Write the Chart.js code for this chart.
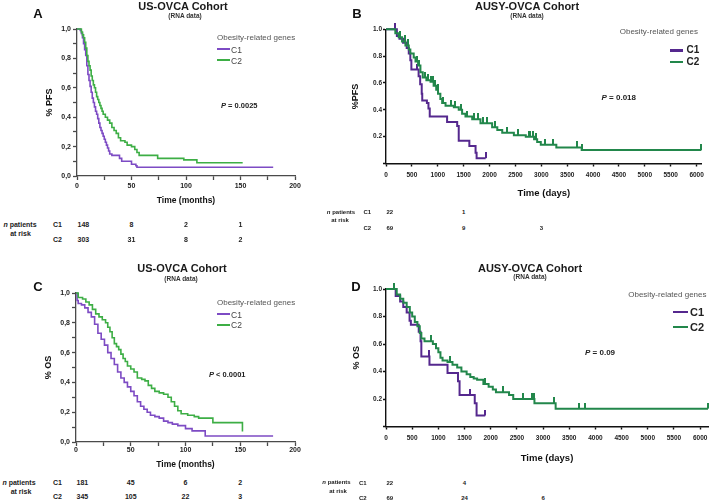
<!DOCTYPE html>
<html>
<head>
<meta charset="utf-8">
<title>Obesity-related genes - survival</title>
<script src="https://cdn.jsdelivr.net/npm/chart.js"></script>
<style>
  body { margin: 0; background: #fff; }
  #page { position: relative; width: 709px; height: 502px; overflow: hidden;
          font-family: "Liberation Sans", Arial, sans-serif; color: #222; }
  canvas { position: absolute; }
  .c  { position: absolute; white-space: nowrap; line-height: 1; transform: translate(-50%, -50%); }
  .l  { position: absolute; white-space: nowrap; line-height: 1; transform: translate(0, -50%); }
  .r  { position: absolute; white-space: nowrap; line-height: 1; transform: translate(-100%, -50%); }
  .b  { font-weight: bold; }
  .key { position: absolute; }
  .title { font-size: 11px; font-weight: bold; color: #1a1a1a; }
  .sub { font-size: 6.5px; font-weight: bold; color: #333; }
  .letter { font-size: 13px; font-weight: bold; color: #111; }
  .gene { font-size: 8px; color: #555; }
</style>
</head>
<body>
<div id="page">
  <canvas id="chartA"></canvas>
  <canvas id="chartB"></canvas>
  <canvas id="chartC"></canvas>
  <canvas id="chartD"></canvas>

  <!-- titulos -->
  <div class="c letter" style="left:38px;top:13px">A</div>
  <div class="c title" style="left:183px;top:6px">US-OVCA Cohort</div>
  <div class="c sub" style="left:185px;top:15.5px">(RNA data)</div>

  <div class="c letter" style="left:357px;top:13px">B</div>
  <div class="c title" style="left:527px;top:6px">AUSY-OVCA Cohort</div>
  <div class="c sub" style="left:527px;top:15.5px">(RNA data)</div>

  <div class="c letter" style="left:38px;top:286px">C</div>
  <div class="c title" style="left:182px;top:268px">US-OVCA Cohort</div>
  <div class="c sub" style="left:181px;top:278.5px">(RNA data)</div>

  <div class="c letter" style="left:356px;top:286px">D</div>
  <div class="c title" style="left:530px;top:268px">AUSY-OVCA Cohort</div>
  <div class="c sub" style="left:530px;top:277px">(RNA data)</div>

  <!-- legendas -->
  <div class="l gene" style="left:217px;top:38px">Obesity-related genes</div>
  <div class="key" id="keyA1" style="left:217px;top:48.3px;width:13px;height:2px"></div>
  <div class="l" style="left:231px;top:49.5px;font-size:8.5px;color:#444">C1</div>
  <div class="key" id="keyA2" style="left:217px;top:59.3px;width:13px;height:2px"></div>
  <div class="l" style="left:231px;top:60.5px;font-size:8.5px;color:#444">C2</div>

  <div class="r gene" style="left:698px;top:32.3px">Obesity-related genes</div>
  <div class="key" id="keyB1" style="left:670px;top:49px;width:13px;height:2.5px"></div>
  <div class="l b" style="left:686.5px;top:50.3px;font-size:10px">C1</div>
  <div class="key" id="keyB2" style="left:670px;top:60.7px;width:13px;height:2.5px"></div>
  <div class="l b" style="left:686.5px;top:62px;font-size:10px">C2</div>

  <div class="l gene" style="left:217px;top:302.7px">Obesity-related genes</div>
  <div class="key" id="keyC1" style="left:217px;top:313.3px;width:13px;height:2px"></div>
  <div class="l" style="left:231px;top:314.5px;font-size:8.5px;color:#444">C1</div>
  <div class="key" id="keyC2" style="left:217px;top:324px;width:13px;height:2px"></div>
  <div class="l" style="left:231px;top:325.2px;font-size:8.5px;color:#444">C2</div>

  <div class="r gene" style="left:706.5px;top:295px">Obesity-related genes</div>
  <div class="key" id="keyD1" style="left:673px;top:310.5px;width:15px;height:2.5px"></div>
  <div class="l b" style="left:690px;top:312px;font-size:11px">C1</div>
  <div class="key" id="keyD2" style="left:673px;top:325.5px;width:15px;height:2.5px"></div>
  <div class="l b" style="left:690px;top:327px;font-size:11px">C2</div>

  <!-- valores P -->
  <div class="l b" style="left:221px;top:105.7px;font-size:7.5px"><i>P</i> = 0.0025</div>
  <div class="l b" style="left:601.5px;top:98.3px;font-size:8px"><i>P</i> = 0.018</div>
  <div class="l b" style="left:209px;top:375px;font-size:7.5px"><i>P</i> &lt; 0.0001</div>
  <div class="l b" style="left:585px;top:353.3px;font-size:8px"><i>P</i> = 0.09</div>

  <!-- pacientes em risco -->
  <div class="c b" style="left:20px;top:224px;font-size:7px"><i>n</i> patients</div>
  <div class="c b" style="left:20.5px;top:232.5px;font-size:7px">at risk</div>
  <div class="c b" style="left:341px;top:212px;font-size:6px"><i>n</i> patients</div>
  <div class="c b" style="left:340px;top:220px;font-size:6px">at risk</div>
  <div class="c b" style="left:19px;top:482px;font-size:7px"><i>n</i> patients</div>
  <div class="c b" style="left:21px;top:491px;font-size:7px">at risk</div>
  <div class="c b" style="left:336.5px;top:482px;font-size:6px"><i>n</i> patients</div>
  <div class="c b" style="left:338px;top:491px;font-size:6px">at risk</div>
</div>

<script>
// Cores
const purpleUs = "#7d4bc4";
const greenUs = "#3dae45";
const purpleAu = "#55288e";
const greenAu = "#22874b";

// Marcas dos eixos
const monthTicks = [0,25,50,75,100,125,150,175,200];
const dayTicks = [0,500,1000,1500,2000,2500,3000,3500,4000,4500,5000,5500,6000];
const commaTicks = [0,0.1,0.2,0.3,0.4,0.5,0.6,0.7,0.8,0.9,1];
const dotTicks = [0,0.2,0.4,0.6,0.8,1];

// A: PFS, US-OVCA (months)
const usPfsC1Time = [0,3,4,5,6,7,8,9,10,11,12,13,14,15,16,17,18,19,20,21,22,23,24,25,26,27,28,29,30,32,39,41,50,54,55,180];
const usPfsC1Surv = [1,0.99,0.97,0.94,0.90,0.86,0.82,0.75,0.69,0.65,0.61,0.57,0.53,0.50,0.47,0.44,0.42,0.39,0.36,0.33,0.31,0.29,0.27,0.25,0.23,0.21,0.19,0.17,0.15,0.14,0.12,0.10,0.08,0.07,0.06,0.06];
const usPfsC2Time = [0,4,5,6,7,8,9,10,11,12,13,14,15,16,17,18,19,20,21,22,23,24,26,28,30,32,34,36,38,40,44,46,50,53,55,57,74,98,110,152];
const usPfsC2Surv = [1,0.98,0.96,0.94,0.91,0.87,0.82,0.78,0.75,0.72,0.68,0.65,0.62,0.60,0.57,0.54,0.52,0.50,0.48,0.46,0.44,0.42,0.40,0.38,0.36,0.33,0.31,0.29,0.26,0.24,0.23,0.21,0.20,0.18,0.16,0.14,0.12,0.11,0.09,0.09];

// B: PFS, AUSY-OVCA (days)
const ausPfsC1Time = [0,210,260,330,400,440,470,490,630,660,690,700,790,820,845,1180,1375,1405,1610,1730,1750,1925];
const ausPfsC1Surv = [1,0.95,0.93,0.90,0.86,0.82,0.77,0.70,0.65,0.59,0.52,0.47,0.45,0.41,0.35,0.31,0.28,0.17,0.13,0.08,0.04,0.04];
const ausPfsC1Censor = [180,600,1925];
const ausPfsC2Time = [0,180,245,310,375,440,470,535,570,620,665,710,780,860,920,970,1005,1050,1085,1150,1310,1405,1470,1535,1665,1825,2050,2150,2245,2470,2700,2860,2920,2990,3290,3780,6090];
const ausPfsC2Surv = [1,0.97,0.94,0.91,0.88,0.85,0.82,0.79,0.76,0.73,0.68,0.64,0.62,0.61,0.58,0.55,0.52,0.48,0.45,0.43,0.42,0.40,0.37,0.35,0.33,0.30,0.27,0.25,0.23,0.21,0.20,0.18,0.16,0.14,0.12,0.10,0.10];
const ausPfsC2Censor = [270,360,430,600,640,760,820,870,900,950,1000,1110,1250,1330,1440,1560,1700,1780,1880,1960,2100,2330,2550,2760,2790,2830,2890,3080,3220,3680,3790,6090];

// C: OS, US-OVCA (months)
const usOsC1Time = [0,1,2,5,8,11,14,17,20,23,26,29,32,35,38,41,44,47,50,53,56,59,62,65,68,72,76,80,84,88,93,100,106,118,180];
const usOsC1Surv = [1,0.95,0.93,0.92,0.90,0.87,0.84,0.79,0.73,0.69,0.65,0.60,0.56,0.52,0.47,0.43,0.40,0.37,0.34,0.31,0.27,0.24,0.22,0.20,0.18,0.17,0.16,0.14,0.13,0.12,0.11,0.09,0.075,0.04,0.04];
const usOsC2Time = [0,2,6,9,12,15,18,21,24,27,29,31,33,35,37,39,41,43,45,47,50,53,56,60,63,66,69,72,76,80,84,87,90,93,96,102,108,112,125,152];
const usOsC2Surv = [1,0.97,0.96,0.94,0.92,0.89,0.86,0.84,0.82,0.80,0.77,0.74,0.70,0.66,0.64,0.62,0.59,0.56,0.54,0.51,0.49,0.47,0.43,0.42,0.41,0.38,0.36,0.34,0.33,0.32,0.30,0.27,0.24,0.21,0.19,0.18,0.17,0.16,0.13,0.07];

// D: OS, AUSY-OVCA (days)
const ausOsC1Time = [0,185,270,330,395,450,475,625,660,675,830,1175,1375,1405,1695,1730,1895];
const ausOsC1Surv = [1,0.95,0.91,0.87,0.83,0.77,0.74,0.69,0.62,0.51,0.45,0.39,0.33,0.23,0.17,0.08,0.08];
const ausOsC1Censor = [820,1600,1895];
const ausOsC2Time = [0,205,270,330,395,455,500,550,600,645,675,735,895,955,1000,1040,1080,1175,1270,1360,1440,1540,1610,1675,1740,1860,1960,2040,2100,2350,2430,2835,3240,6150];
const ausOsC2Surv = [1,0.96,0.93,0.90,0.87,0.83,0.80,0.76,0.73,0.68,0.64,0.62,0.60,0.57,0.54,0.50,0.48,0.47,0.45,0.43,0.40,0.38,0.36,0.35,0.34,0.31,0.29,0.27,0.25,0.23,0.20,0.17,0.13,0.13];
const ausOsC2Censor = [150,860,1230,1900,2230,2620,2780,2830,3200,3680,3800,6150];

// Pacientes em risco
const usRiskTimes = [0,50,100,150];
const usPfsRiskC1 = [148,8,2,1];
const usPfsRiskC2 = [303,31,8,2];
const usOsRiskC1 = [181,45,6,2];
const usOsRiskC2 = [345,105,22,3];
const ausRiskTimes = [0,1500,3000];
const ausPfsRiskC1 = [22,1,null];
const ausPfsRiskC2 = [69,9,3];
const ausOsRiskC1 = [22,4,null];
const ausOsRiskC2 = [69,24,6];

Chart.defaults.font.family = "'Liberation Sans', Arial, sans-serif";
Chart.defaults.color = "#222";

// Valor da curva num tempo
function SurvAt(times, surv, t){
  let v = surv[0];
  for (let i = 0; i < times.length; i++) {
    if (times[i] <= t) v = surv[i];
  }
  return v;
}

// Marca de censura (traco para cima)
function TickImage(color){
  const c = document.createElement("canvas");
  c.width = 2; c.height = 12;
  const g = c.getContext("2d");
  g.fillStyle = color;
  g.fillRect(0, 0, 2, 6);
  return c;
}

function MakePanel(id, p){
  const el = document.getElementById(id);
  el.width = p.box.w; el.height = p.box.h;
  el.style.left = p.box.x + "px";
  el.style.top = p.box.y + "px";

  const yHalf = p.yFont * 1.2 / 2;
  const xHalf = p.xFont * 1.2 / 2;
  const padLeft = p.yTitleX - p.box.x - yHalf;
  const yWidth = p.area.l - p.box.x - padLeft;
  const xHeight = p.xTitleY + xHalf - p.area.b;

  const datasets = [];
  p.series.forEach(s => {
    datasets.push({
      data: s.times.map((t, i) => ({x: t, y: s.surv[i]})),
      borderColor: s.color, borderWidth: p.lineWidth,
      stepped: "before", pointRadius: 0, fill: false, clip: false
    });
    if (s.censor) {
      datasets.push({
        data: s.censor.map(t => ({x: t, y: SurvAt(s.times, s.surv, t)})),
        showLine: false, pointStyle: TickImage(s.color), pointRadius: 3,
        borderColor: s.color, backgroundColor: s.color, clip: false
      });
    }
  });

  return new Chart(el, {
    type: "line",
    data: {datasets: datasets},
    options: {
      responsive: false,
      animation: false,
      events: [],
      layout: {padding: {
        left: padLeft,
        top: p.area.t - p.box.y,
        right: p.box.x + p.box.w - p.area.r,
        bottom: p.box.y + p.box.h - p.area.b - xHeight
      }},
      plugins: {legend: {display: false}, tooltip: {enabled: false}},
      scales: {
        x: {
          type: "linear", min: 0, max: p.xMax,
          afterFit: s => { s.height = xHeight; },
          afterBuildTicks: s => { s.ticks = p.xTicks.map(v => ({value: v})); },
          border: {color: p.axisColor, width: p.axisWidth},
          grid: {drawOnChartArea: false, drawTicks: true, tickLength: p.tickLen, tickColor: p.axisColor, tickWidth: p.axisWidth},
          ticks: {autoSkip: false, maxRotation: 0,
                  padding: p.xPad, font: {size: p.tickFont, weight: "bold"}, color: "#222", callback: p.xLabel},
          title: {display: true, text: p.xTitle, padding: 0, font: {size: p.xFont, weight: "bold"}, color: "#111"}
        },
        y: {
          min: 0, max: 1,
          afterFit: s => { s.width = yWidth; },
          afterBuildTicks: s => { s.ticks = p.yTicks.map(v => ({value: v})); },
          border: {color: p.axisColor, width: p.axisWidth},
          grid: {drawOnChartArea: false, drawTicks: true, tickLength: p.tickLen, tickColor: p.axisColor, tickWidth: p.axisWidth},
          ticks: {autoSkip: false, padding: p.yPad,
                  font: {size: p.tickFont, weight: "bold"}, color: "#222", callback: p.yLabel},
          title: {display: true, text: p.yTitle, padding: 0, font: {size: p.yFont, weight: "bold"}, color: "#111"}
        }
      }
    }
  });
}

// Rotulos dos eixos
const monthLabel = v => (v % 50 === 0 ? v : "");
const dayLabel = v => v;
const commaLabel = v => (Math.round(v * 10) % 2 === 0 ? v.toFixed(1).replace(".", ",") : "");
const dotLabel = v => (v < 0.01 ? "" : v.toFixed(1));

const usStyle = {lineWidth: 1.6, axisColor: "#4a4a4a", axisWidth: 1.3, tickLen: 4, tickFont: 7,
                 xFont: 8.5, yFont: 9, xMax: 200, xTicks: monthTicks, yTicks: commaTicks, yPad: 2,
                 xLabel: monthLabel, yLabel: commaLabel, xTitle: "Time (months)"};
const ausStyle = {lineWidth: 2, axisColor: "#111", axisWidth: 1.4, tickLen: 3, tickFont: 6.5,
                  xFont: 9.5, yFont: 9, xTicks: dayTicks, yTicks: dotTicks, yPad: 1,
                  xLabel: dayLabel, yLabel: dotLabel, xTitle: "Time (days)"};

const chartA = MakePanel("chartA", Object.assign({}, usStyle, {
  box: {x: 0, y: 0, w: 340, h: 215}, area: {l: 77, t: 29, r: 295, b: 176},
  yTitleX: 50, xTitleY: 201, xPad: 2, yTitle: "% PFS",
  series: [
    {times: usPfsC2Time, surv: usPfsC2Surv, color: greenUs},
    {times: usPfsC1Time, surv: usPfsC1Surv, color: purpleUs}
  ]
}));

const chartB = MakePanel("chartB", Object.assign({}, ausStyle, {
  box: {x: 340, y: 0, w: 385, h: 205}, area: {l: 386, t: 29.3, r: 701.8, b: 163.5},
  xMax: 6100, yTitleX: 356, xTitleY: 193, xPad: 5, yTitle: "%PFS",
  series: [
    {times: ausPfsC2Time, surv: ausPfsC2Surv, censor: ausPfsC2Censor, color: greenAu},
    {times: ausPfsC1Time, surv: ausPfsC1Surv, censor: ausPfsC1Censor, color: purpleAu}
  ]
}));

const chartC = MakePanel("chartC", Object.assign({}, usStyle, {
  box: {x: 0, y: 250, w: 340, h: 225}, area: {l: 76, t: 293, r: 295, b: 442},
  yTitleX: 49, xTitleY: 465, xPad: 0, yTitle: "% OS",
  series: [
    {times: usOsC2Time, surv: usOsC2Surv, color: greenUs},
    {times: usOsC1Time, surv: usOsC1Surv, color: purpleUs}
  ]
}));

const chartD = MakePanel("chartD", Object.assign({}, ausStyle, {
  box: {x: 340, y: 250, w: 390, h: 220}, area: {l: 386, t: 289, r: 708, b: 426.5},
  xMax: 6150, yTitleX: 357, xTitleY: 458, xPad: 4.5, yTitle: "% OS",
  series: [
    {times: ausOsC2Time, surv: ausOsC2Surv, censor: ausOsC2Censor, color: greenAu},
    {times: ausOsC1Time, surv: ausOsC1Surv, censor: ausOsC1Censor, color: purpleAu}
  ]
}));

// Cores das legendas
document.querySelector("#keyA1").style.background = purpleUs;
document.querySelector("#keyA2").style.background = greenUs;
document.querySelector("#keyC1").style.background = purpleUs;
document.querySelector("#keyC2").style.background = greenUs;
document.querySelector("#keyB1").style.background = purpleAu;
document.querySelector("#keyB2").style.background = greenAu;
document.querySelector("#keyD1").style.background = purpleAu;
document.querySelector("#keyD2").style.background = greenAu;

// Tabela de pacientes em risco, alinhada ao eixo x do grafico
function AtRisk(chart, boxX, times, rows, labelX, size){
  const page = document.querySelector("#page");
  rows.forEach(row => {
    const lab = document.createElement("div");
    lab.className = "l b";
    lab.style.cssText = "left:" + labelX + "px;top:" + row.y + "px;font-size:" + size + "px";
    lab.textContent = row.name;
    page.appendChild(lab);
    row.counts.forEach((n, i) => {
      if (n === null) return;
      const d = document.createElement("div");
      const px = boxX + chart.scales.x.getPixelForValue(times[i]);
      d.className = i === 0 ? "l b" : "c b";
      d.style.cssText = "left:" + (i === 0 ? px + 0.5 : px) + "px;top:" + row.y + "px;font-size:" + size + "px";
      d.textContent = n;
      page.appendChild(d);
    });
  });
}

AtRisk(chartA, 0, usRiskTimes, [{name: "C1", y: 224, counts: usPfsRiskC1}, {name: "C2", y: 239, counts: usPfsRiskC2}], 53, 7);
AtRisk(chartB, 340, ausRiskTimes, [{name: "C1", y: 212, counts: ausPfsRiskC1}, {name: "C2", y: 228, counts: ausPfsRiskC2}], 363.5, 6);
AtRisk(chartC, 0, usRiskTimes, [{name: "C1", y: 482, counts: usOsRiskC1}, {name: "C2", y: 496, counts: usOsRiskC2}], 53, 7);
AtRisk(chartD, 340, ausRiskTimes, [{name: "C1", y: 482.5, counts: ausOsRiskC1}, {name: "C2", y: 497.5, counts: ausOsRiskC2}], 359, 6);
</script>
</body>
</html>
